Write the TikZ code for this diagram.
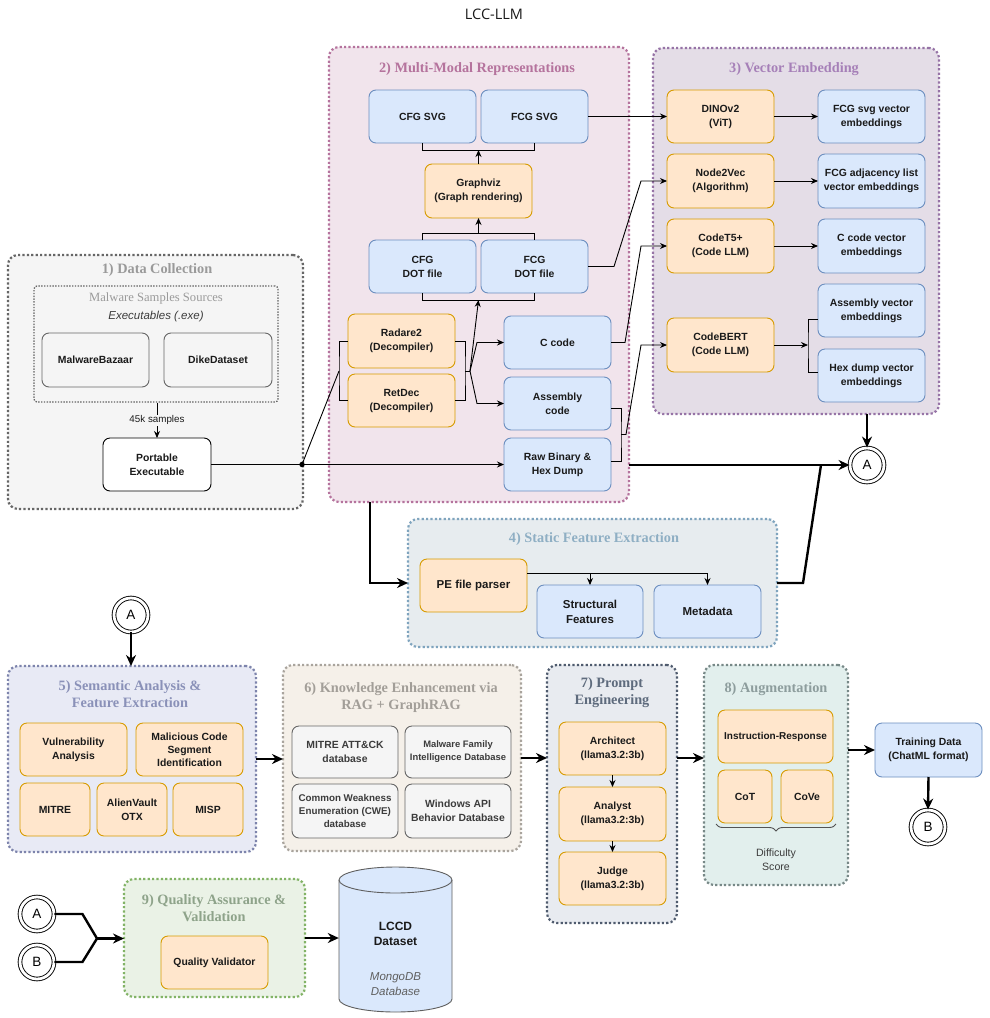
\documentclass[tikz,border=0pt]{standalone}
\usepackage{fontspec}
\setmainfont{Liberation Sans}
\newfontfamily\serifttl{Liberation Serif}
\newfontfamily\topfont{Open Sans}
\usetikzlibrary{arrows.meta,decorations.pathreplacing,calc}
\definecolor{bFill}{HTML}{DAE8FC}\definecolor{bLine}{HTML}{6C8EBF}
\definecolor{oFill}{HTML}{FFE6CC}\definecolor{oLine}{HTML}{D79B00}
\definecolor{gFill}{HTML}{F5F5F5}\definecolor{gLine}{HTML}{666666}
\definecolor{txt}{HTML}{1A1A1A}
\definecolor{gaf}{HTML}{F5F5F5}\definecolor{gal}{HTML}{666666}\definecolor{gat}{HTML}{9A9A9A}
\definecolor{gbf}{HTML}{F1E4EC}\definecolor{gbl}{HTML}{B5739D}\definecolor{gbt}{HTML}{B5739D}
\definecolor{gcf}{HTML}{E4DDE7}\definecolor{gcl}{HTML}{9673A6}\definecolor{gct}{HTML}{A680B8}
\definecolor{gdf}{HTML}{E7ECEF}\definecolor{gdl}{HTML}{7FA4BE}\definecolor{gdt}{HTML}{8FAFC4}
\definecolor{gef}{HTML}{E8EAF5}\definecolor{gel}{HTML}{7D84AC}\definecolor{get}{HTML}{8A91B8}
\definecolor{gff}{HTML}{F5F0E9}\definecolor{gfl}{HTML}{A9A49D}\definecolor{gft}{HTML}{A29E98}
\definecolor{ggf}{HTML}{E8EBF0}\definecolor{ggl}{HTML}{4F5B6E}\definecolor{ggt}{HTML}{5E6B7D}
\definecolor{ghf}{HTML}{E2EFED}\definecolor{ghl}{HTML}{778887}\definecolor{ght}{HTML}{8D9D9D}
\definecolor{gif}{HTML}{EAF2E6}\definecolor{gil}{HTML}{82B366}\definecolor{git}{HTML}{8EA38A}
\tikzset{
  base/.style={rounded corners=7pt, inner sep=1pt, outer sep=0pt, align=center,
    font=\bfseries\fontsize{10.4}{14}\selectfont, text=txt, line width=0.9pt},
  bluebox/.style={base, draw=bLine, fill=bFill},
  orgbox/.style={base, draw=oLine, fill=oFill},
  graybox/.style={base, draw=gLine, fill=gFill},
  whitebox/.style={base, draw=black, fill=white},
  grp/.style={rounded corners=10pt, line width=2.2pt, dash pattern=on 2.2pt off 2.2pt, inner sep=0pt, outer sep=0pt},
  ttl/.style={font=\serifttl\bfseries\fontsize{14.3}{17}\selectfont, align=center},
  conn/.style={line width=0.9pt, -{Stealth[length=7pt,width=6pt]}},
  plain/.style={line width=0.9pt},
  thickarr/.style={line width=2.4pt, -{Stealth[length=11pt,width=10pt]}},
  thickline/.style={line width=2.4pt},
  circ/.style={circle, draw, fill=white, double, double distance=2.8pt, line width=0.9pt,
    minimum size=34pt, inner sep=0pt, font=\fontsize{13.5}{13.5}\selectfont},
}
\newcommand\bx[7]{\node[#2, minimum width={(#5)-(#3)}, minimum height={(#6)-(#4)}] (#1) at ({((#3)+(#5))/2},{((#4)+(#6))/2}) {#7};}
\begin{document}
\begin{tikzpicture}[x=1pt,y=-1pt]
\fill[white] (0,0) rectangle (989,1018);
\useasboundingbox (0,0) rectangle (989,1018);
\node[font=\topfont\fontsize{14.5}{16}\selectfont, text=txt] (title) at (494,14) {LCC-LLM};

% ---------- groups ----------
\bx{g1}{grp, draw=gal, fill=gaf}{8}{255}{303}{509}{}
\bx{g2}{grp, draw=gbl, fill=gbf}{329}{47}{629}{502}{}
\bx{g3}{grp, draw=gcl, fill=gcf}{653}{48}{939}{414}{}
\bx{g4}{grp, draw=gdl, fill=gdf}{408}{519}{777}{647}{}
\bx{g5}{grp, draw=gel, fill=gef}{8}{666}{256}{852}{}
\bx{g6}{grp, draw=gfl, fill=gff}{283}{665}{521}{851}{}
\bx{g7}{grp, draw=ggl, fill=ggf}{547}{665}{677}{923}{}
\bx{g8}{grp, draw=ghl, fill=ghf}{704}{665}{848}{885}{}
\bx{g9}{grp, draw=gil, fill=gif}{124}{879}{305}{997}{}

\node[ttl, text=gat] (t1) at (157,270) {1) Data Collection};
\node[ttl, text=gbt] (t2) at (477,69) {2) Multi-Modal Representations};
\node[ttl, text=gct] (t3) at (794,69) {3) Vector Embedding};
\node[ttl, text=gdt] (t4) at (594,539) {4) Static Feature Extraction};
\node[ttl, text=get] (t5) at (130,694.5) {5) Semantic Analysis \&\\Feature Extraction};
\node[ttl, text=gft] (t6) at (401,698) {6) Knowledge Enhancement via\\RAG + GraphRAG};
\node[ttl, text=ggt] (t7) at (612,693) {7) Prompt\\Engineering};
\node[ttl, text=ght] (t8) at (776,689) {8) Augmentation};
\node[ttl, text=git] (t9) at (214,908.5) {9) Quality Assurance \&\\Validation};

% ---------- 1) data collection ----------
\bx{g1in}{rounded corners=3pt, draw=gal, line width=1.3pt, dash pattern=on 1.4pt off 1.4pt}{34}{286}{278}{402}{}
\node[font=\serifttl\fontsize{12.6}{14}\selectfont, text=gat] (mss) at (156,298) {Malware Samples Sources};
\node[font=\itshape\fontsize{11.5}{14}\selectfont, text=txt!85] (exe) at (156,317) {Executables (.exe)};
\bx{mb}{graybox}{42}{333}{149}{387}{MalwareBazaar}
\bx{dike}{graybox}{164}{333}{272}{387}{DikeDataset}
\bx{pe}{whitebox}{103}{438}{211}{491}{Portable\\Executable}
\draw[conn] (pe.north |- g1in.south) -- node[fill=gaf, inner sep=1pt, font=\fontsize{9.8}{11}\selectfont, text=txt] (lbl45) {45k samples} (pe.north);

% ---------- 2) multi-modal ----------
\bx{cfgsvg}{bluebox}{369}{90}{476}{143}{CFG SVG}
\bx{fcgsvg}{bluebox}{481}{90}{588}{143}{FCG SVG}
\bx{gviz}{orgbox}{425}{164}{532}{218}{Graphviz\\(Graph rendering)}
\bx{cfgdot}{bluebox}{369}{240}{476}{293}{CFG\\DOT file}
\bx{fcgdot}{bluebox}{481}{240}{588}{293}{FCG\\DOT file}
\bx{r2}{orgbox}{348}{314}{455}{368}{Radare2\\(Decompiler)}
\bx{retdec}{orgbox}{348}{374}{455}{427}{RetDec\\(Decompiler)}
\bx{ccode}{bluebox}{504}{316}{611}{369}{C code}
\bx{asm}{bluebox}{504}{377}{611}{430}{Assembly\\code}
\bx{raw}{bluebox}{504}{438}{611}{491}{Raw Binary \&\\Hex Dump}

% ---------- 3) vector embedding ----------
\bx{dino}{orgbox}{667}{90}{774}{143}{DINOv2\\(ViT)}
\bx{n2v}{orgbox}{667}{154}{774}{208}{Node2Vec\\(Algorithm)}
\bx{ct5}{orgbox}{667}{219}{774}{273}{CodeT5+\\(Code LLM)}
\bx{cbert}{orgbox}{667}{318}{774}{372}{CodeBERT\\(Code LLM)}
\bx{e1}{bluebox}{818}{90}{925}{143}{FCG svg vector\\embeddings}
\bx{e2}{bluebox}{818}{154}{925}{208}{FCG adjacency list\\vector embeddings}
\bx{e3}{bluebox}{818}{219}{925}{273}{C code vector\\embeddings}
\bx{e4}{bluebox}{818}{284}{925}{337}{Assembly vector\\embeddings}
\bx{e5}{bluebox}{818}{349}{925}{402}{Hex dump vector\\embeddings}

% ---------- 4) static features ----------
\bx{pep}{orgbox, font=\bfseries\fontsize{11.5}{15}\selectfont}{420}{559}{527}{612}{PE file parser}
\bx{struct}{bluebox, font=\bfseries\fontsize{11.5}{15}\selectfont}{537}{585}{643}{638}{Structural\\Features}
\bx{meta}{bluebox, font=\bfseries\fontsize{11.5}{15}\selectfont}{654}{585}{761}{638}{Metadata}

% ---------- 5) semantic ----------
\bx{vuln}{orgbox}{20}{723}{127}{776}{Vulnerability\\Analysis}
\bx{malseg}{orgbox, font=\bfseries\fontsize{10.4}{13}\selectfont}{136}{723}{243}{776}{Malicious Code\\Segment\\Identification}
\bx{mitre}{orgbox}{20}{783}{90}{836}{MITRE}
\bx{otx}{orgbox}{97}{783}{167}{836}{AlienVault\\OTX}
\bx{misp}{orgbox}{173}{783}{243}{836}{MISP}

% ---------- 6) knowledge ----------
\bx{attck}{graybox, text=txt!85}{292}{726}{398}{778}{MITRE ATT\&CK\\database}
\bx{mfam}{graybox, text=txt!85, font=\bfseries\fontsize{9.4}{13}\selectfont}{405}{726}{511}{778}{Malware Family\\Intelligence Database}
\bx{cwe}{graybox, text=txt!85, font=\bfseries\fontsize{9.8}{13}\selectfont}{292}{784}{398}{838}{Common Weakness\\Enumeration (CWE)\\database}
\bx{winapi}{graybox, text=txt!85}{405}{784}{511}{838}{Windows API\\Behavior Database}

% ---------- 7) prompt ----------
\bx{arch}{orgbox}{559}{722}{666}{775}{Architect\\(llama3.2:3b)}
\bx{anal}{orgbox}{559}{787}{666}{841}{Analyst\\(llama3.2:3b)}
\bx{judge}{orgbox}{559}{852}{666}{905}{Judge\\(llama3.2:3b)}

% ---------- 8) augmentation ----------
\bx{instr}{orgbox, font=\bfseries\fontsize{10}{14}\selectfont}{718}{710}{833}{763}{Instruction-Response}
\bx{cot}{orgbox}{718}{770}{772}{823}{CoT}
\bx{cove}{orgbox}{781}{770}{833}{823}{CoVe}
\draw[decorate, decoration={brace, mirror, amplitude=7pt}, line width=0.9pt, draw=txt!75]
  ([xshift=-2pt,yshift=-1pt]cot.south west) -- ([xshift=3pt,yshift=-1pt]cove.south east);
\node[font=\fontsize{10.6}{14}\selectfont, text=txt!85, align=center] (diff) at (776,860) {Difficulty\\Score};
\bx{train}{bluebox}{875}{723}{982}{777}{Training Data\\(ChatML format)}

% ---------- 9) quality ----------
\bx{qv}{orgbox}{161}{936}{268}{989}{Quality Validator}

% ---------- cylinder ----------
\bx{lccd}{inner sep=0pt}{339}{867}{452}{1012}{}
\path[fill=bFill, draw=txt!70, line width=0.9pt] (339,880) -- (339,999)
  arc[start angle=180, end angle=0, x radius=56.5, y radius=13] -- (452,880)
  arc[start angle=0, end angle=-180, x radius=56.5, y radius=13] -- cycle;
\draw[txt!70, line width=0.9pt] (339,880) arc[start angle=180, end angle=0, x radius=56.5, y radius=13];
\node[font=\bfseries\fontsize{12}{15}\selectfont, text=txt, align=center] (lccdt) at (395.5,933.5) {LCCD\\Dataset};
\node[font=\itshape\fontsize{11.5}{15}\selectfont, text=txt!70, align=center] (mongo) at (395.5,984.5) {MongoDB\\Database};

% ---------- circles ----------
\node[circ] (circA) at (867,465) {A};
\node[circ] (circA2) at (131,615) {A};
\node[circ] (circB) at (928,827) {B};
\node[circ] (circA3) at (37,914) {A};
\node[circ] (circB3) at (37,962) {B};

% ---------- connectors: group 1 / 2 ----------
\coordinate (jn) at (302,464.5);
\draw[plain] (pe.east) -- (jn);
\draw[conn] (jn) -- (raw.west);
\fill (jn) circle (2.7pt);
\coordinate (lb) at (339,371);
\draw[plain] (jn) -- (lb);
\draw[plain] (r2.west) -| (lb) |- (retdec.west);
\coordinate (rb) at (465,371);
\coordinate (rj) at (470,371);
\draw[plain] (r2.east) -| (rb) |- (retdec.east);
\draw[plain] (rb) -- (rj);
\coordinate (dotbrd) at ($(cfgdot.south)!0.5!(fcgdot.south)+(0,7)$);
\draw[plain] (cfgdot.south) -- ++(0,7) -| (fcgdot.south);
\draw[conn] (rj) -- (dotbrd);
\draw[conn] (rj) -- ([xshift=-27pt]ccode.west) -- (ccode.west);
\draw[conn] (rj) -- ([xshift=-27pt]asm.west) -- (asm.west);
\coordinate (dotbru) at ($(cfgdot.north)!0.5!(fcgdot.north)+(0,-7)$);
\draw[plain] (cfgdot.north) -- ++(0,-7) -| (fcgdot.north);
\draw[conn] (dotbru) -- (gviz.south);
\coordinate (svgbr) at ($(cfgsvg.south)+(0,7)$);
\draw[plain] (cfgsvg.south) -- (svgbr) -| (fcgsvg.south);
\draw[conn] (gviz.north) -- (gviz.north |- svgbr);
\coordinate (abr) at (621,434.5);
\draw[plain] ([yshift=-4.5pt]asm.east) -| (abr) |- ([yshift=3.5pt]raw.east);

% ---------- 2 -> 3 ----------
\draw[conn] (fcgsvg.east) -- (dino.west);
\draw[conn] (fcgdot.east) -- ++(26,0) -- ([xshift=-26pt]n2v.west) -- (n2v.west);
\draw[conn] (ccode.east) -- ++(14,0) -- ([xshift=-26pt]ct5.west) -- (ct5.west);
\draw[conn] (abr) -- ++(5,0) -- ([xshift=-26pt]cbert.west) -- (cbert.west);

% ---------- inside 3 ----------
\draw[conn] (dino.east) -- (e1.west);
\draw[conn] (n2v.east) -- (e2.west);
\draw[conn] (ct5.east) -- (e3.west);
\coordinate (ebr) at (808,345);
\draw[conn] (cbert.east) -- (ebr);
\draw[plain] ([yshift=-8.5pt]e4.west) -| (ebr) |- ([yshift=3.5pt]e5.west);

% ---------- to A ----------
\draw[thickarr] (g2.east |- circA) -- (circA.west);
\draw[thickarr] (circA |- g3.south) -- (circA.north);
\draw[thickarr] ([xshift=41pt]g2.south west) |- (g4.west);
\coordinate (ja) at (821,465);
\draw[thickline] (g4.east) -- ++(26,0) -- (ja);

% ---------- inside 4 ----------
\coordinate (pl) at ([yshift=12.5pt]pep.east);
\draw[conn] (pl) -| (meta.north);
\draw[conn] (pl -| struct.north) -- (struct.north);

% ---------- lower flow ----------
\draw[thickarr] (circA2.south) -- (circA2.south |- g5.north);
\draw[thickarr] (g5.east) -- (g5.east -| g6.west);
\draw[thickarr] (g6.east) -- (g6.east -| g7.west);
\draw[thickarr] (g6.east -| g7.east) -- (g6.east -| g8.west);
\draw[thickarr] (g8.east |- train) -- (train.west);
\draw[thickarr] (train.south) -- (circB.north);
\draw[conn] (arch.south) -- (anal.north);
\draw[conn] (anal.south) -- (judge.north);

% ---------- bottom ----------
\coordinate (mj) at (97,938.5);
\draw[thickline] (circA3.east) -- ++(28,0) -- (mj);
\draw[thickline] (circB3.east) -- ++(28,0) -- (mj);
\draw[thickarr] (mj) -- (mj -| g9.west);
\draw[thickarr] (g9.east) -- (g9.east -| lccd.west);
\end{tikzpicture}
\end{document}
